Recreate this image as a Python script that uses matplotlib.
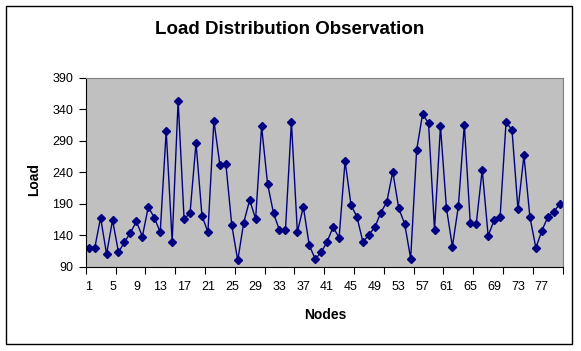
import numpy as np
import matplotlib.pyplot as plt
from matplotlib.patches import Rectangle

# Observed load for each node
nodes = np.arange(1, 81)
load = [119, 119, 168, 110, 164, 113, 129, 144, 162, 138,
        185, 168, 145, 306, 130, 354, 166, 175, 287, 171,
        145, 322, 252, 254, 156, 100, 160, 196, 166, 313,
        222, 175, 148, 148, 320, 145, 185, 124, 102, 113,
        130, 153, 136, 258, 188, 169, 129, 141, 153, 176,
        193, 241, 183, 158, 103, 275, 333, 318, 149, 313,
        183, 122, 186, 316, 159, 158, 244, 139, 164, 169,
        320, 307, 181, 267, 169, 120, 147, 169, 177, 190]

yticks = np.arange(90, 391, 50)
xlabels = np.arange(1, 78, 4)

plt.rcParams['font.family'] = ['Liberation Sans', 'DejaVu Sans']

W, H = 581, 351
fig = plt.figure(figsize=(W / 100, H / 100), dpi=100)
# chart border
fig.patches.append(Rectangle((6 / W, 1 - 344 / H), 566 / W, 338 / H,
                             transform=fig.transFigure, fill=False,
                             edgecolor='black', linewidth=1))

left, right, top, bottom = 85.7, 562.7, 78, 266.7
ax = fig.add_axes([left / W, 1 - bottom / H, (right - left) / W, (bottom - top) / H])
ax.set_facecolor('#C0C0C0')

ax.plot(nodes, load, color='#000080', linewidth=1, marker='D', markersize=4.5,
        markerfacecolor='#000080', markeredgecolor='#000080')

ax.set_xlim(0.5, 80.5)
ax.set_ylim(90, 390)
ax.set_yticks(yticks)
ax.set_xticks(xlabels)
ax.set_xticks(np.arange(0.5, 81, 5), minor=True)
ax.tick_params(axis='x', which='major', length=0, pad=10, labelsize=9)
ax.tick_params(axis='x', which='minor', length=5, width=0.8, direction='out')
ax.tick_params(axis='y', length=5, width=0.8, labelsize=9, pad=4)

for s in ['top', 'right']:
    ax.spines[s].set_color('#808080')
for s in ['left', 'bottom']:
    ax.spines[s].set_color('black')

fig.text(290 / W, 1 - 30 / H, 'Load Distribution Observation', ha='center', va='center',
         fontsize=13.5, fontweight='bold')
fig.text(325 / W, 1 - 315 / H, 'Nodes', ha='center', va='center',
         fontsize=10, fontweight='bold')
fig.text(34 / W, 1 - 180 / H, 'Load', ha='center', va='center', rotation=90,
         fontsize=10, fontweight='bold')

fig.savefig('out.png', dpi=100)
